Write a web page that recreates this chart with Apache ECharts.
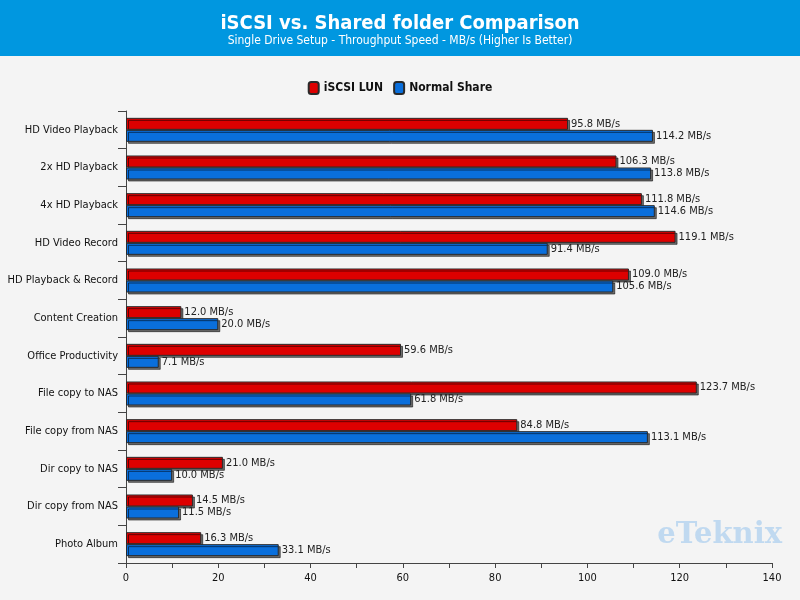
<!DOCTYPE html>
<html>
<head>
<meta charset="utf-8">
<script src="https://cdn.jsdelivr.net/npm/echarts@6/dist/echarts.min.js"></script>
<style>
  html, body { margin: 0; padding: 0; background: #f4f4f4; }
  #main { width: 800px; height: 600px; }
</style>
</head>
<body>
<div id="main"></div>
<script>
// categories top -> bottom
var categories = ['HD Video Playback', '2x HD Playback', '4x HD Playback', 'HD Video Record',
  'HD Playback & Record', 'Content Creation', 'Office Productivity', 'File copy to NAS',
  'File copy from NAS', 'Dir copy to NAS', 'Dir copy from NAS', 'Photo Album'];
var iscsiLun = [95.8, 106.3, 111.8, 119.1, 109.0, 12.0, 59.6, 123.7, 84.8, 21.0, 14.5, 16.3];
var normalShare = [114.2, 113.8, 114.6, 91.4, 105.6, 20.0, 7.1, 61.8, 113.1, 10.0, 11.5, 33.1];

var font = 'DejaVu Sans Condensed, DejaVu Sans, sans-serif';

function barSeries(name, data, color) {
  return {
    name: name,
    type: 'bar',
    data: data,
    barWidth: 12,
    barGap: '0%',
    itemStyle: {
      color: color,
      borderColor: '#2a2a2a',
      borderWidth: 1,
      shadowColor: 'rgba(0,0,0,0.55)',
      shadowOffsetX: 2,
      shadowOffsetY: 2,
      shadowBlur: 0
    },
    label: {
      show: true,
      position: 'right',
      distance: 3,
      color: '#222',
      fontFamily: font,
      fontSize: 11,
      formatter: function (p) { return p.value.toFixed(1) + ' MB/s'; }
    }
  };
}

var chart = echarts.init(document.getElementById('main'));
chart.setOption({
  backgroundColor: '#f4f4f4',
  animation: false,
  graphic: [
    { type: 'rect', left: 0, top: 0, shape: { width: 800, height: 56 }, style: { fill: '#0097e0' }, z: -1 },
    { type: 'text', left: 'center', top: 14, style: { text: 'iSCSI vs. Shared folder Comparison', fill: '#fff',
      font: 'bold 20px ' + font } },
    { type: 'text', left: 'center', top: 35, style: { text: 'Single Drive Setup - Throughput Speed - MB/s (Higher Is Better)',
      fill: '#fff', font: '12px ' + font } },
    { type: 'text', right: 18, top: 521, style: { text: 'eTeknix', fill: 'rgba(170,205,238,0.7)',
      font: 'bold 29px "DejaVu Serif", serif' } }
  ],
  legend: {
    top: 76,
    left: 'center',
    itemWidth: 10,
    itemHeight: 12,
    itemGap: 10,
    textStyle: { fontFamily: font, fontSize: 12, fontWeight: 'bold', color: '#111' },
    data: ['iSCSI LUN', 'Normal Share']
  },
  grid: { left: 126, right: 28, top: 111, bottom: 37 },
  xAxis: {
    type: 'value',
    min: 0, max: 140, interval: 20,
    axisLine: { show: true, lineStyle: { color: '#444' } },
    axisTick: { show: true, length: 5, lineStyle: { color: '#444' } },
    minorTick: { show: true, splitNumber: 2, length: 5, lineStyle: { color: '#444' } },
    splitLine: { show: false },
    axisLabel: { color: '#111', fontFamily: font, fontSize: 11, margin: 10 }
  },
  yAxis: {
    type: 'category',
    inverse: true,
    data: categories,
    axisLine: { show: true, lineStyle: { color: '#444' } },
    axisTick: { show: true, length: 8, lineStyle: { color: '#444' } },
    axisLabel: { color: '#111', fontFamily: font, fontSize: 11, margin: 8 }
  },
  series: [
    barSeries('iSCSI LUN', iscsiLun, '#dd0000'),
    barSeries('Normal Share', normalShare, '#0a6fdc')
  ]
});
</script>
</body>
</html>
